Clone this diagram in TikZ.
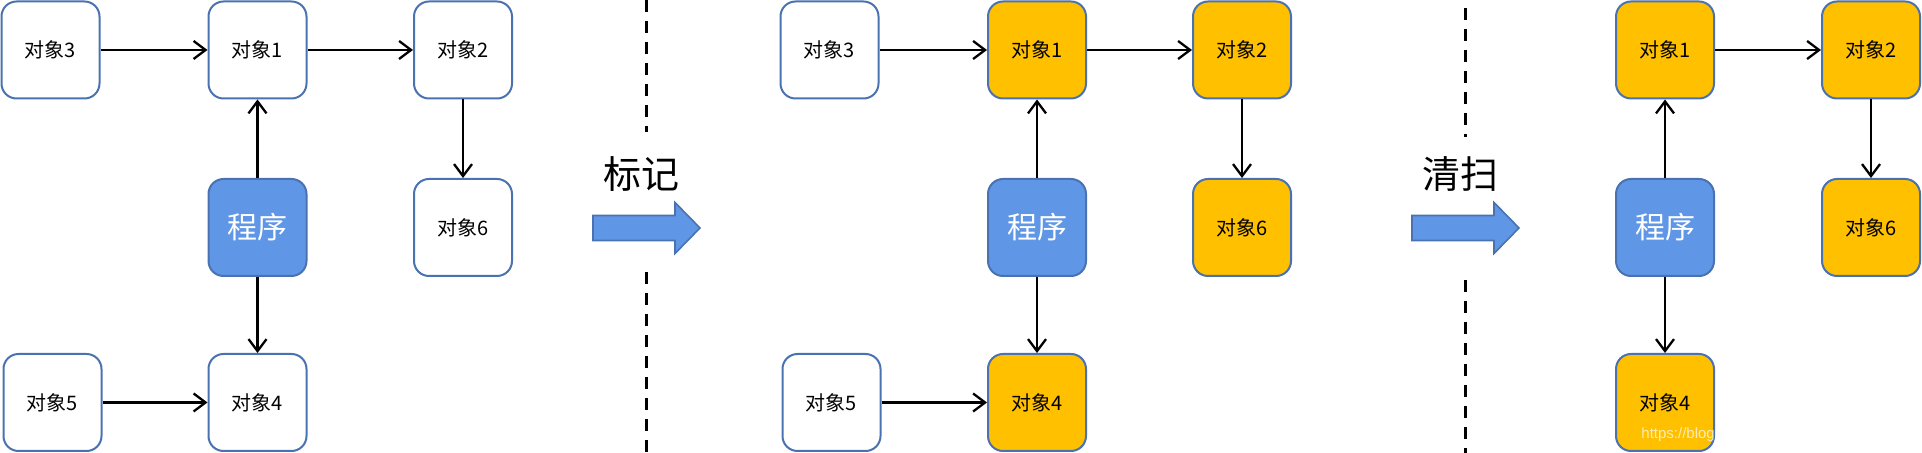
\documentclass[tikz,border=0pt]{standalone}
\usepackage{fontspec}
\setmainfont{Noto Sans CJK SC}
\newfontfamily\wmfont{Liberation Sans}
\usetikzlibrary{arrows.meta}
\definecolor{objline}{HTML}{4A72B0}
\definecolor{progfill}{HTML}{6096E6}
\definecolor{markfill}{HTML}{FFC000}
\tikzset{
  obj/.style={draw=objline, line width=1pt, rounded corners=7.5pt, fill=white,
    minimum width=49pt, minimum height=48.5pt, inner sep=0pt,
    font=\fontsize{10}{12}\selectfont},
  marked/.style={obj, fill=markfill},
  prog/.style={obj, fill=progfill, text=white, font=\fontsize{15}{18}\selectfont},
  ref/.style={line width=1.15pt, -{Straight Barb[length=6pt,width=9pt]}},
  sep/.style={line width=1.5pt, dash pattern=on 6pt off 4.5pt},
  bigarrow/.style={draw=objline, line width=0.8pt, fill=progfill},
}
\begin{document}
\begin{tikzpicture}[x=0.5pt, y=-0.5pt]
    \useasboundingbox (0,0) rectangle (1922,453);

    % --- before marking ---
    \node[obj]  (o3a) at (50.5,50)    {对象3};
    \node[obj]  (o1a) at (257.5,50)   {对象1};
    \node[obj]  (o2a) at (463,50)     {对象2};
    \node[prog] (pa)  at (257.5,227.5) {程序};
    \node[obj]  (o6a) at (463,227.5)  {对象6};
    \node[obj]  (o5a) at (52.5,402.5) {对象5};
    \node[obj]  (o4a) at (257.5,402.5) {对象4};

    \draw[ref] (o3a) -- (o1a); \draw[ref] (o1a) -- (o2a); \draw[ref] (o2a) -- (o6a);
    \draw[ref] (pa) -- (o1a);  \draw[ref] (pa) -- (o4a);  \draw[ref] (o5a) -- (o4a);

    % --- after marking ---
    \node[obj]    (o3b) at (829.5,50)   {对象3};
    \node[marked] (o1b) at (1037,50)    {对象1};
    \node[marked] (o2b) at (1242,50)    {对象2};
    \node[prog]   (pb)  at (1037,227.5) {程序};
    \node[marked] (o6b) at (1242,227.5) {对象6};
    \node[obj]    (o5b) at (831.5,402.5) {对象5};
    \node[marked] (o4b) at (1037,402.5) {对象4};

    \draw[ref] (o3b) -- (o1b); \draw[ref] (o1b) -- (o2b); \draw[ref] (o2b) -- (o6b);
    \draw[ref] (pb) -- (o1b);  \draw[ref] (pb) -- (o4b);  \draw[ref] (o5b) -- (o4b);

    % --- after sweeping ---
    \node[marked] (o1c) at (1665,50)    {对象1};
    \node[marked] (o2c) at (1871,50)    {对象2};
    \node[prog]   (pc)  at (1665,227.5) {程序};
    \node[marked] (o6c) at (1871,227.5) {对象6};
    \node[marked] (o4c) at (1665,402.5) {对象4};

    \draw[ref] (o1c) -- (o2c); \draw[ref] (o2c) -- (o6c);
    \draw[ref] (pc) -- (o1c);  \draw[ref] (pc) -- (o4c);

    % separators and stage arrows
    \draw[sep] (646,0) -- (646,132);  \draw[sep] (646,272) -- (646,453);
    \draw[sep] (1465,8) -- (1465,137); \draw[sep] (1465,280) -- (1465,453);

    \foreach \tip/\word/\n in {700/标记/stagea, 1519/清扫/stageb} {
        \draw[bigarrow] (\tip,228) -- ++(-25,-25.5) -- ++(0,13) -- ++(-82,0)
            -- ++(0,25) -- ++(82,0) -- ++(0,13) -- cycle;
        \node[font=\fontsize{19}{22}\selectfont] (\n) at (\tip-59,174.5) {\word};
    }

    \node[font=\wmfont\fontsize{7.5}{9}\selectfont, text=white, opacity=0.7,
          anchor=west, inner sep=0pt] (wm) at (1641,434.5) {https://blog};
\end{tikzpicture}
\end{document}
